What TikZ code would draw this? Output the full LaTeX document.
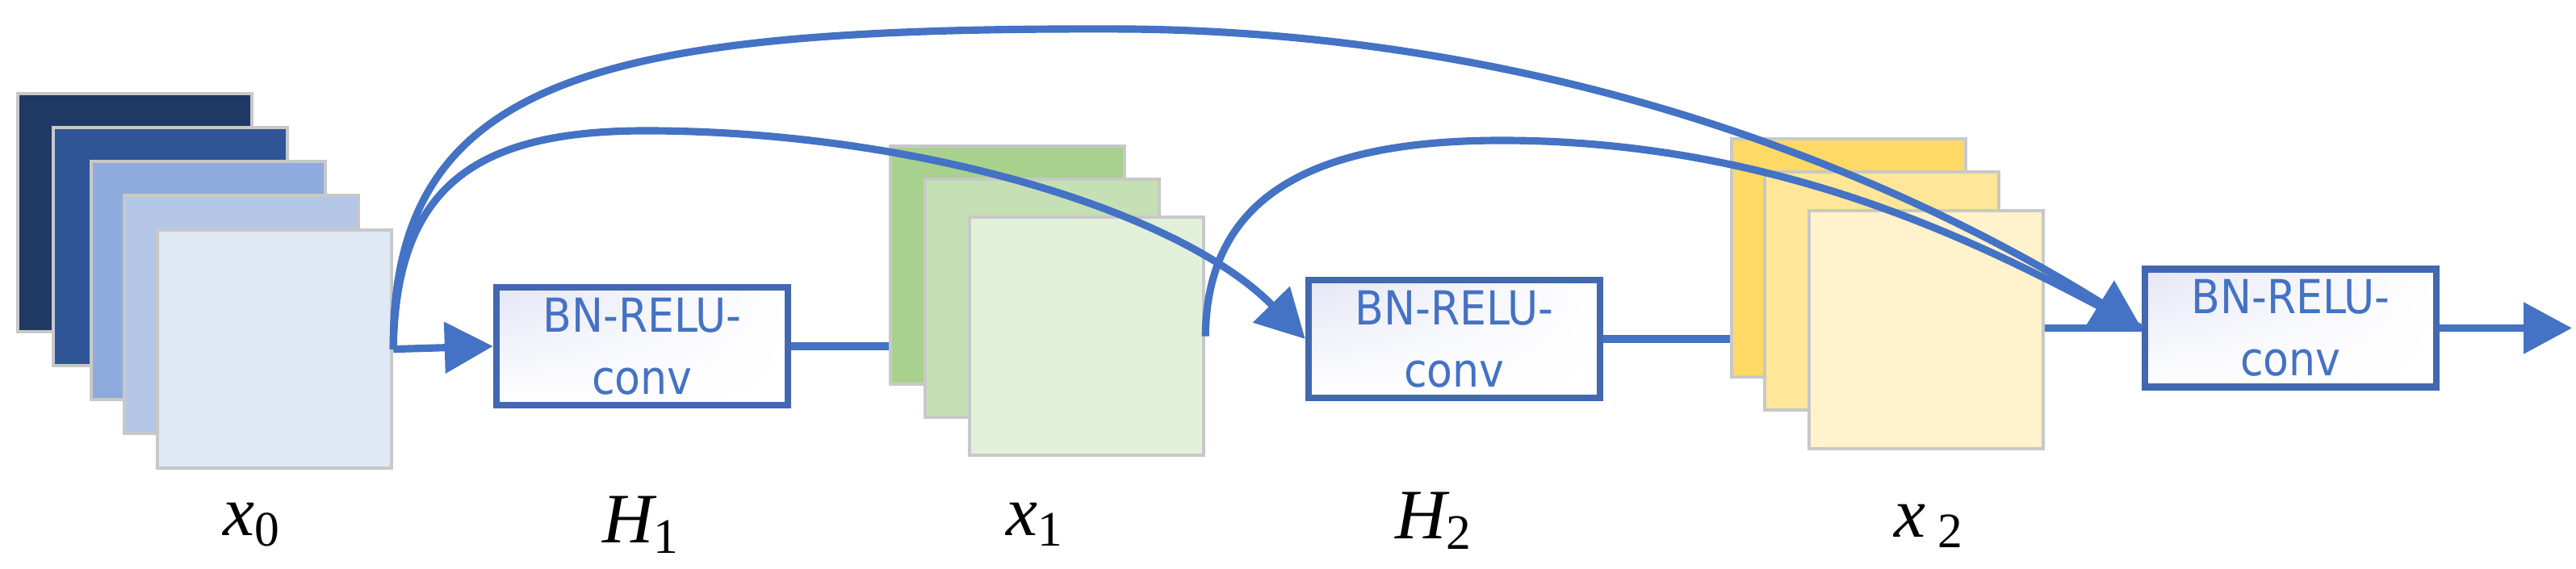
\documentclass[tikz,border=0pt]{standalone}
\usepackage{fontspec}
\setmainfont{Liberation Serif}
\newfontfamily\boxfont{DejaVu Sans Condensed}
\usetikzlibrary{arrows.meta,shadings}
\definecolor{lb}{HTML}{4472C4}
\definecolor{bb}{HTML}{4168B0}
\definecolor{gb}{HTML}{C8C8C8}
\definecolor{lav}{HTML}{E4E6F5}
\tikzset{
  fm/.style={draw=gb,line width=1.2pt,minimum width=2.9cm,minimum height=2.95cm,inner sep=0pt},
  blk/.style={draw=bb,line width=2.4pt,minimum width=3.61cm,minimum height=1.46cm,inner sep=0pt,
     upper left=lav,upper right=white,lower left=white,lower right=white,
     font=\boxfont\fontsize{16.5pt}{22pt}\selectfont,text=lb,align=center},
  ln/.style={draw=lb,line width=2.6pt},
  ar/.style={ln,-{Triangle[length=0.6cm,width=0.62cm]}},
  lab/.style={font=\itshape\fontsize{25pt}{27pt}\selectfont,inner sep=0pt}
}
\begin{document}
\begin{tikzpicture}[x=1cm,y=1cm]
\useasboundingbox (0,0) rectangle (31.91,-7.05);
% x0 stack
\node[fm,fill={rgb,255:red,31;green,56;blue,100},anchor=north west] (a1) at (0.20,-1.14) {};
\node[fm,fill={rgb,255:red,47;green,85;blue,151},anchor=north west] (a2) at (0.64,-1.56) {};
\node[fm,fill={rgb,255:red,143;green,170;blue,220},anchor=north west] (a3) at (1.11,-1.98) {};
\node[fm,fill={rgb,255:red,180;green,199;blue,231},anchor=north west] (a4) at (1.52,-2.40) {};
\node[fm,fill={rgb,255:red,222;green,233;blue,245},anchor=north west] (a5) at (1.93,-2.83) {};
% x1 stack
\node[fm,fill={rgb,255:red,169;green,209;blue,142},anchor=north west] (b1) at (11.01,-1.79) {};
\node[fm,fill={rgb,255:red,197;green,224;blue,180},anchor=north west] (b2) at (11.44,-2.20) {};
\node[fm,fill={rgb,255:red,226;green,240;blue,217},anchor=north west] (b3) at (11.99,-2.67) {};
% x2 stack
\node[fm,fill={rgb,255:red,255;green,217;blue,102},anchor=north west] (c1) at (21.43,-1.70) {};
\node[fm,fill={rgb,255:red,255;green,230;blue,153},anchor=north west] (c2) at (21.84,-2.11) {};
\node[fm,fill={rgb,255:red,255;green,242;blue,204},anchor=north west] (c3) at (22.39,-2.59) {};
% blocks
\node[blk] (h1) at (7.955,-4.29) {BN-RELU-\\conv};
\node[blk] (h2) at (18.015,-4.20) {BN-RELU-\\conv};
\node[blk] (h3) at (28.375,-4.065) {BN-RELU-\\conv};
\coordinate (out) at (31.86,-4.065);
% straight connectors
\draw[ar] (a5.east) -- (h1.west);
\draw[ln] (h1.east) -- (h1.east -| b1.west);
\draw[ln] (h2.east) -- (h2.east -| c1.west);
\draw[ln] (h3.west -| c3.east) -- (h3.west);
\draw[ar] (h3.east) -- (out);
% curved skip connections
\draw[ar] (a5.east) .. controls (4.85,-0.9) and (7.5,-0.33) .. (14.0,-0.36)
   .. controls (19.5,-0.42) and (23.7,-2.3) .. (h3.west);
\draw[ar] (a5.east) .. controls (4.9,-2.3) and (5.9,-1.62) .. (8.0,-1.62)
   .. controls (11.3,-1.62) and (14.6,-2.6) .. (h2.west);
\draw[ln] (b3.east) .. controls (14.95,-2.4) and (16.3,-1.74) .. (18.6,-1.74)
   .. controls (22.5,-1.74) and (25.2,-3.4) .. (h3.west);
% labels
\node[lab] (l0) at (3.12,-6.50) {x\textsubscript{\upshape 0}};
\node[lab] (l1) at (7.94,-6.50) {H\textsubscript{\upshape 1}};
\node[lab] (l2) at (12.82,-6.50) {x\textsubscript{\upshape 1}};
\node[lab] (l3) at (17.76,-6.45) {H\textsubscript{\upshape 2}};
\node[lab] (l4) at (23.90,-6.52) {x\,\textsubscript{\upshape 2}};
\end{tikzpicture}
\end{document}
